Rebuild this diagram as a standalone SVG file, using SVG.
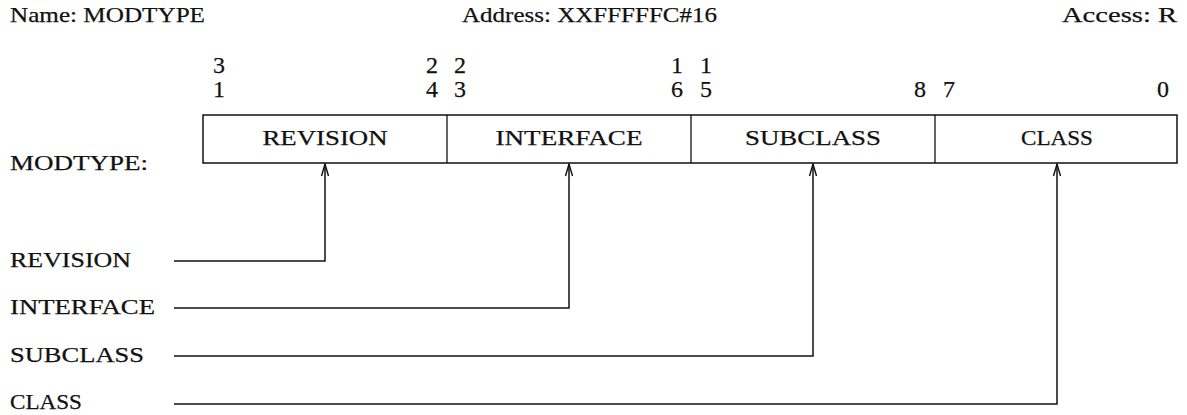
<svg xmlns="http://www.w3.org/2000/svg" width="1187" height="415" viewBox="0 0 1187 415">
<style>
  text { font-family: "Liberation Serif", "Times New Roman", serif; font-size: 22px; fill: #111; stroke: #111; stroke-width: 0.25; }
  .dig { font-size: 24px; text-anchor: middle; }
  .mid { text-anchor: middle; }
  .box { fill: #fff; stroke: #111; stroke-width: 1.5; }
  .div { stroke: #111; stroke-width: 1.3; }
  .con { fill: none; stroke: #111; stroke-width: 1.5; }
  .head { fill: none; stroke: #111; stroke-width: 1.4; }
</style>
<defs>
  <marker id="arr" viewBox="0 -5 14 10" refX="13" refY="0" markerWidth="14" markerHeight="10" markerUnits="userSpaceOnUse" orient="auto">
    <path d="M1,-3.5 L13,0 L1,3.5" class="head"/>
  </marker>
</defs>
<g id="header">
  <text x="10" y="22" textLength="195" lengthAdjust="spacingAndGlyphs">Name: MODTYPE</text>
  <text x="462" y="22" textLength="255" lengthAdjust="spacingAndGlyphs">Address: XXFFFFFC#16</text>
  <text x="1062" y="22" textLength="115" lengthAdjust="spacingAndGlyphs">Access: R</text>
</g>
<g id="bits">
  <text x="219" y="73" class="dig">3</text><text x="219" y="97" class="dig">1</text>
  <text x="432" y="73" class="dig">2</text><text x="432" y="97" class="dig">4</text>
  <text x="460" y="73" class="dig">2</text><text x="460" y="97" class="dig">3</text>
  <text x="677" y="73" class="dig">1</text><text x="677" y="97" class="dig">6</text>
  <text x="706" y="73" class="dig">1</text><text x="706" y="97" class="dig">5</text>
  <text x="920" y="97" class="dig">8</text>
  <text x="949" y="97" class="dig">7</text>
  <text x="1163" y="97" class="dig">0</text>
</g>
<g id="register">
  <text x="10" y="170" textLength="138" lengthAdjust="spacingAndGlyphs">MODTYPE:</text>
  <rect class="box" x="203" y="115" width="974" height="48"/>
  <line class="div" x1="447" y1="115" x2="447" y2="163"/>
  <line class="div" x1="691" y1="115" x2="691" y2="163"/>
  <line class="div" x1="935" y1="115" x2="935" y2="163"/>
</g>
<g id="field-revision"><text x="325" y="145" class="mid" textLength="125" lengthAdjust="spacingAndGlyphs">REVISION</text></g>
<g id="field-interface"><text x="569" y="145" class="mid" textLength="147" lengthAdjust="spacingAndGlyphs">INTERFACE</text></g>
<g id="field-subclass"><text x="813" y="145" class="mid" textLength="136" lengthAdjust="spacingAndGlyphs">SUBCLASS</text></g>
<g id="field-class"><text x="1057" y="145" class="mid" textLength="72" lengthAdjust="spacingAndGlyphs">CLASS</text></g>
<g id="label-revision"><text x="10" y="267" textLength="121" lengthAdjust="spacingAndGlyphs">REVISION</text></g>
<g id="label-interface"><text x="10" y="314" textLength="145" lengthAdjust="spacingAndGlyphs">INTERFACE</text></g>
<g id="label-subclass"><text x="10" y="362" textLength="134" lengthAdjust="spacingAndGlyphs">SUBCLASS</text></g>
<g id="label-class"><text x="10" y="409" textLength="72" lengthAdjust="spacingAndGlyphs">CLASS</text></g>
<g id="connectors">
  <polyline class="con" points="174,261 325,261 325,164" marker-end="url(#arr)"/>
  <polyline class="con" points="174,308 569,308 569,164" marker-end="url(#arr)"/>
  <polyline class="con" points="174,356 813,356 813,164" marker-end="url(#arr)"/>
  <polyline class="con" points="174,404 1057,404 1057,164" marker-end="url(#arr)"/>
</g>
</svg>
